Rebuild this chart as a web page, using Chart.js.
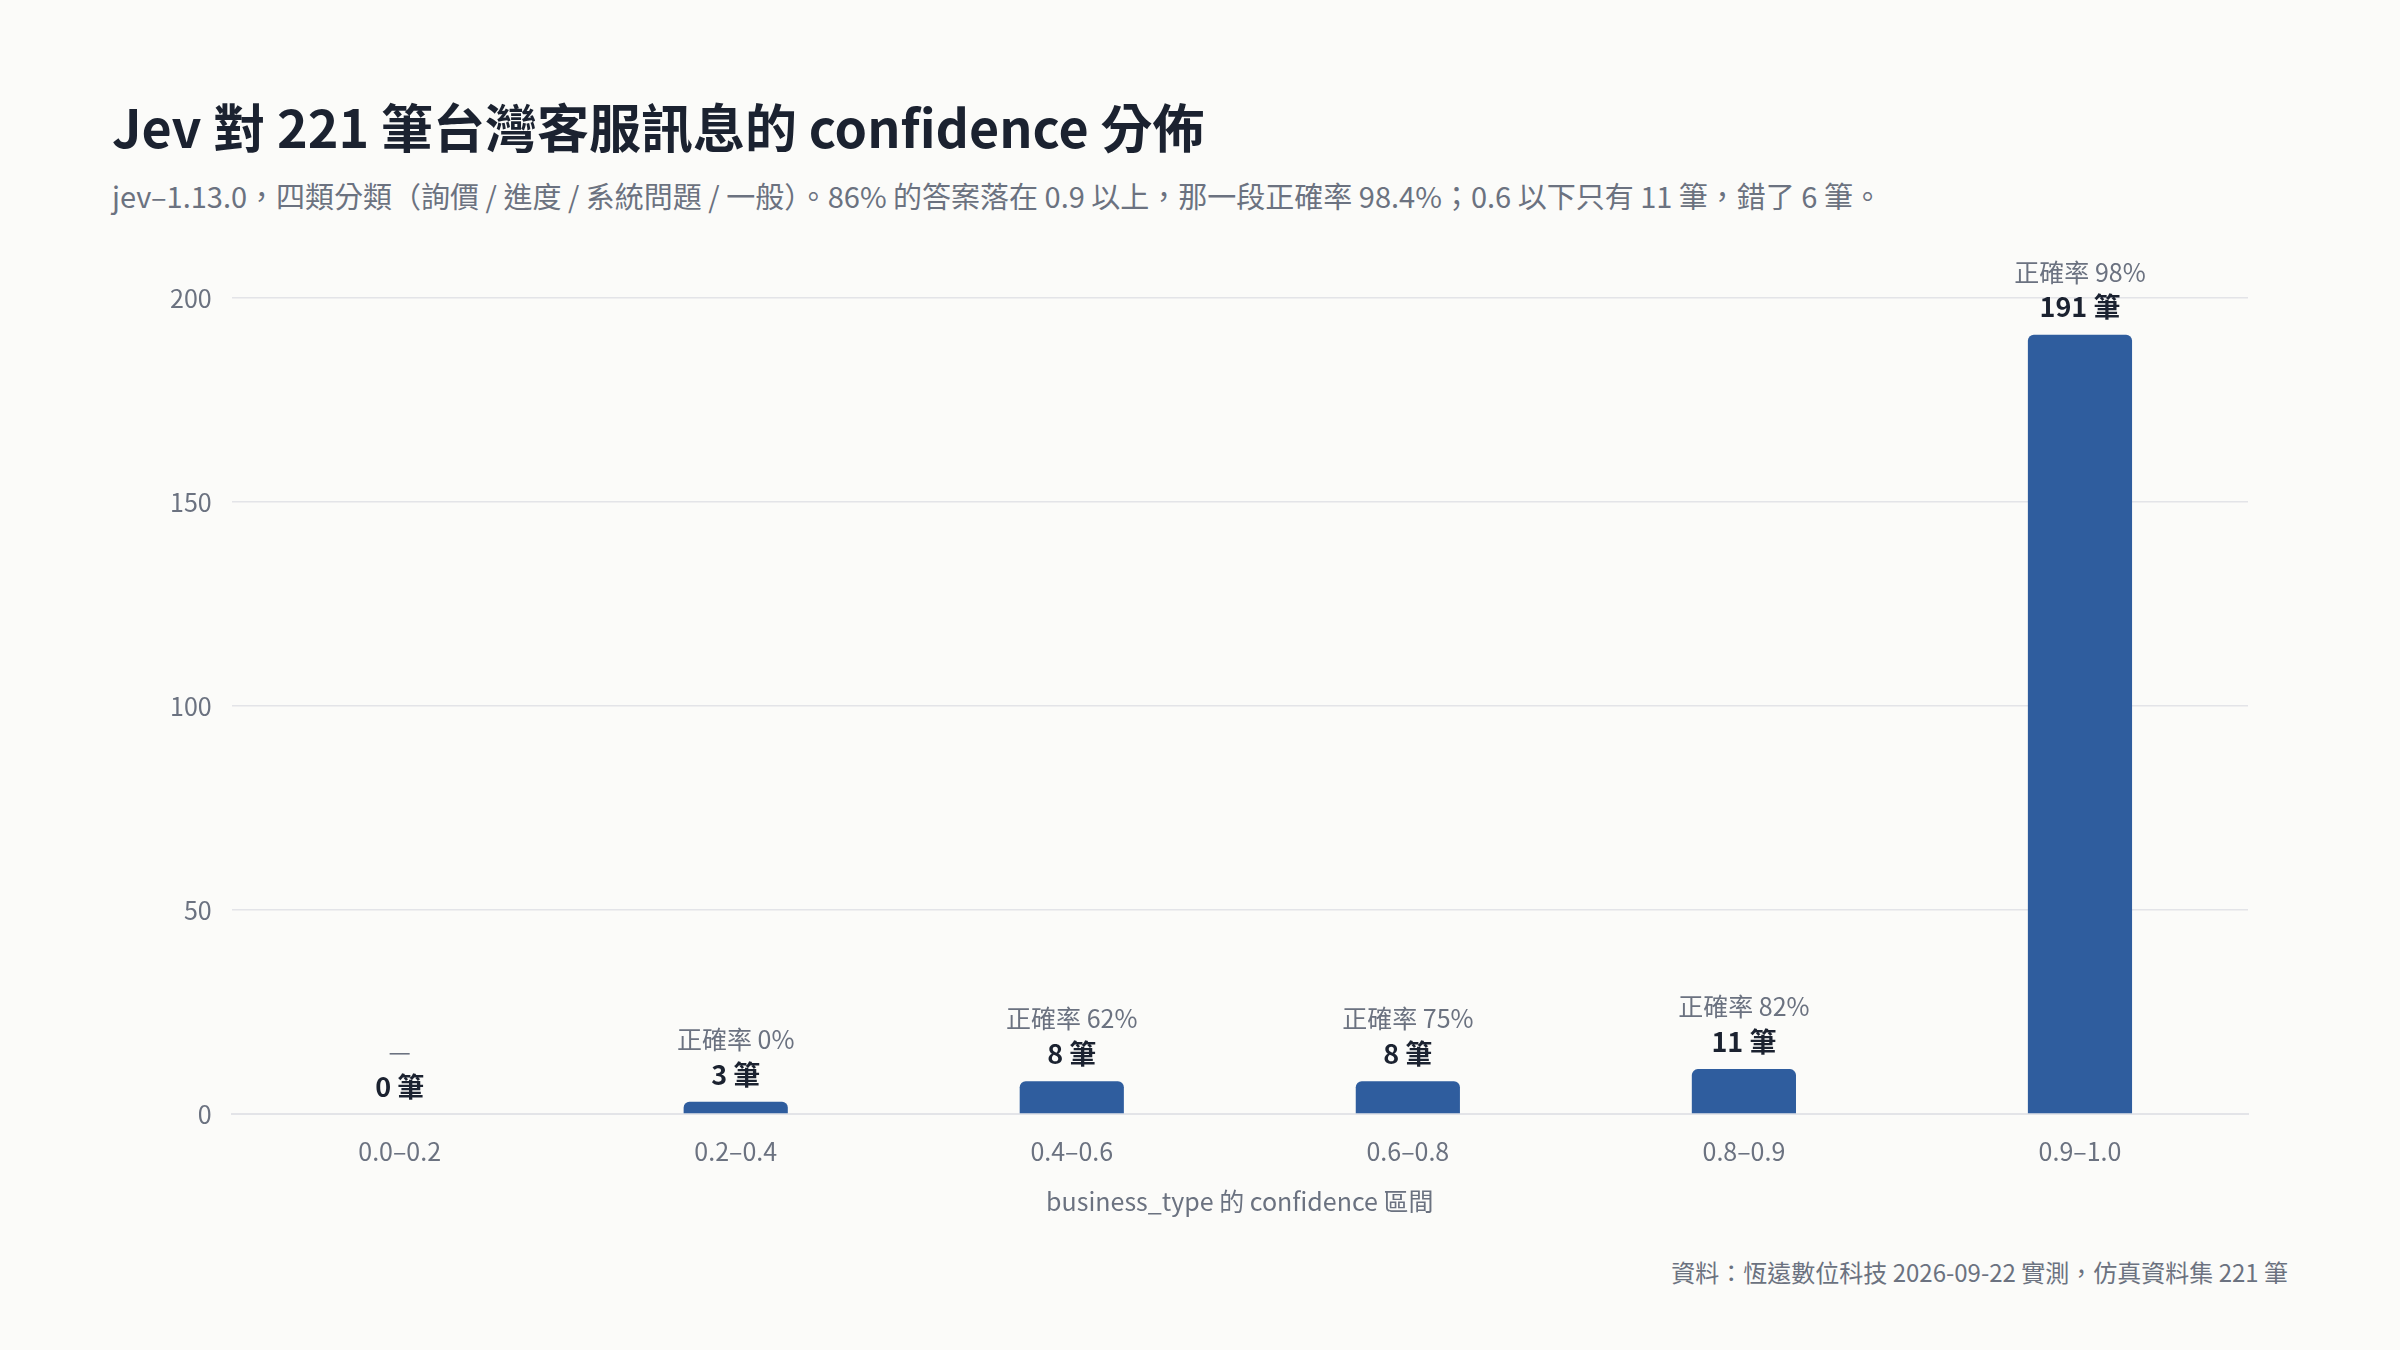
<!DOCTYPE html>
<html lang="zh-Hant">
<head>
  <meta charset="UTF-8">
  <title>Jev confidence 分佈</title>
  <script src="https://cdn.jsdelivr.net/npm/chart.js"></script>
  <style>
    body { margin: 0; background: #fbfbf9; font-family: "Noto Sans CJK TC", "Noto Sans", sans-serif; }
    #wrap { position: relative; width: 2400px; height: 1350px; }
    h1 { position: absolute; left: 112px; top: 88px; margin: 0; font-size: 52px; font-weight: 700; color: #1b2230; }
    .sub { position: absolute; left: 112px; top: 174px; font-size: 29px; color: #6b7280; }
    .foot { position: absolute; right: 112px; top: 1254px; font-size: 24px; color: #6b7280; }
    #box { position: absolute; left: 0; top: 240px; width: 2400px; height: 980px; }
  </style>
</head>
<body>
<div id="wrap">
  <h1>Jev 對 221 筆台灣客服訊息的 confidence 分佈</h1>
  <div class="sub">jev–1.13.0，四類分類（詢價 / 進度 / 系統問題 / 一般）。86% 的答案落在 0.9 以上，那一段正確率 98.4%；0.6 以下只有 11 筆，錯了 6 筆。</div>
  <div id="box"><canvas id="c"></canvas></div>
  <div class="foot">資料：恆遠數位科技 2026-09-22 實測，仿真資料集 221 筆</div>
</div>
<script>
  // 資料
  const bins = ["0.0–0.2", "0.2–0.4", "0.4–0.6", "0.6–0.8", "0.8–0.9", "0.9–1.0"];
  const counts = [0, 3, 8, 8, 11, 191];
  const accuracy = ["—", "正確率 0%", "正確率 62%", "正確率 75%", "正確率 82%", "正確率 98%"];

  const FONT = '"Noto Sans CJK TC", "Noto Sans", sans-serif';

  // 長條上方的標籤
  const barLabels = {
    id: "barLabels",
    afterDatasetsDraw(chart) {
      const ctx = chart.ctx;
      const meta = chart.getDatasetMeta(0);
      ctx.save();
      ctx.textAlign = "center";
      meta.data.forEach((bar, i) => {
        const x = bar.x, y = bar.y;
        ctx.fillStyle = "#1b2230";
        ctx.font = "700 27px " + FONT;
        ctx.textBaseline = "bottom";
        ctx.fillText(counts[i] + " 筆", x, y - 14);
        ctx.fillStyle = "#6b7280";
        ctx.font = "400 25px " + FONT;
        ctx.fillText(accuracy[i], x, y - 50);
      });
      ctx.restore();
    }
  };

  new Chart(document.getElementById("c"), {
    type: "bar",
    data: {
      labels: bins,
      datasets: [{
        data: counts,
        backgroundColor: "#2f5d9e",
        borderRadius: { topLeft: 6, topRight: 6 },
        borderSkipped: "bottom",
        categoryPercentage: 1,
        barPercentage: 0.31
      }]
    },
    options: {
      responsive: true,
      maintainAspectRatio: false,
      animation: false,
      layout: { padding: { left: 150, right: 152, top: 58, bottom: 0 } },
      plugins: { legend: { display: false }, tooltip: { enabled: false } },
      scales: {
        x: {
          grid: { display: false },
          border: { color: "#e3e4e8", width: 2 },
          ticks: { color: "#6b7280", font: { family: FONT, size: 25 }, padding: 14 },
          title: { display: true, text: "business_type 的 confidence 區間", color: "#6b7280", font: { family: FONT, size: 25 }, padding: { top: 6 } }
        },
        y: {
          min: 0, max: 200,
          ticks: { stepSize: 50, color: "#6b7280", font: { family: FONT, size: 25 }, padding: 20 },
          grid: { color: "#e3e4e8", lineWidth: 1.5, drawTicks: false },
          border: { display: false }
        }
      }
    },
    plugins: [barLabels]
  });
</script>
</body>
</html>
